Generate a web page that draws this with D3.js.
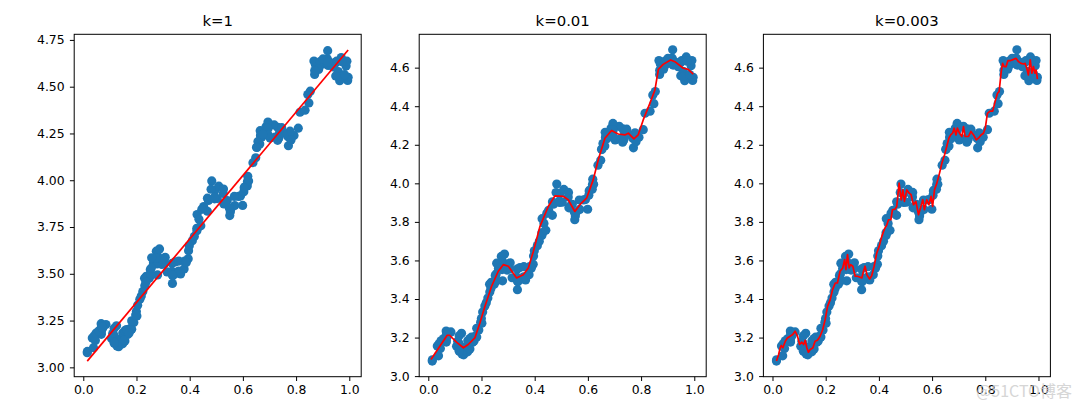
<!DOCTYPE html>
<html><head><meta charset="utf-8">
<script src="https://cdn.jsdelivr.net/npm/d3@7"></script>
<style>body{margin:0;background:#fff}svg{display:block}text{font-family:"DejaVu Sans",sans-serif}</style>
</head><body><svg id="c" width="1080" height="410"></svg>
<script>
// scatter data (x, y)
const xs = [0.067732,0.427810,0.995731,0.738336,0.981083,0.526171,0.378887,0.033859,0.132791,0.138306,0.247809,0.648270,0.731209,0.236833,0.969788,0.607492,0.358622,0.147846,0.637820,0.230372,0.070237,0.067154,0.925577,0.717733,0.015371,0.335070,0.040486,0.212575,0.617218,0.541196,0.045353,0.126762,0.556486,0.901144,0.958476,0.274561,0.394396,0.872480,0.409932,0.908969,0.166819,0.665016,0.263727,0.231214,0.552928,0.047744,0.365746,0.495002,0.493466,0.792101,0.769660,0.251821,0.181951,0.808177,0.334116,0.338630,0.452584,0.694770,0.590902,0.307928,0.148364,0.702180,0.721544,0.666886,0.124931,0.618286,0.381086,0.385643,0.777175,0.116089,0.115487,0.663510,0.254884,0.993888,0.295434,0.952523,0.307047,0.277261,0.279101,0.175724,0.156383,0.733165,0.848142,0.771184,0.429492,0.162176,0.917064,0.315044,0.201473,0.297038,0.336647,0.666109,0.583888,0.085031,0.687006,0.949655,0.189912,0.844027,0.333288,0.427035,0.466369,0.550659,0.278213,0.918769,0.886555,0.569488,0.066379,0.335751,0.426863,0.395746,0.694221,0.272760,0.503495,0.067119,0.038326,0.599122,0.947054,0.671279,0.434811,0.509381,0.749442,0.058014,0.482978,0.466776,0.357767,0.949123,0.417320,0.920461,0.156433,0.656662,0.616418,0.853428,0.133295,0.693007,0.178449,0.199526,0.073224,0.286515,0.182026,0.621523,0.344584,0.398556,0.480369,0.153350,0.171846,0.867082,0.223855,0.528475,0.890192,0.106352,0.917886,0.014855,0.567682,0.068854,0.603535,0.532050,0.651362,0.901225,0.204337,0.696081,0.963924,0.981390,0.987911,0.990947,0.736021,0.253574,0.674722,0.939368,0.235419,0.110521,0.218023,0.869778,0.196830,0.958178,0.972673,0.745797,0.445674,0.470557,0.549236,0.335691,0.884739,0.918916,0.441815,0.116598,0.359274,0.814811,0.387125,0.982243,0.780880,0.652565,0.870030,0.604755,0.255212,0.730546,0.493164,0.257017,0.833735,0.070095,0.527070,0.116163];
const ys = [3.176513,3.816464,4.550095,4.256571,4.560815,3.929515,3.526170,3.156393,3.110301,3.149813,3.476346,4.119688,4.282233,3.486582,4.655492,3.965162,3.514900,3.125947,4.094115,3.476039,3.210610,3.190612,4.631504,4.295890,3.085028,3.448080,3.167440,3.364266,3.993482,3.891471,3.143259,3.114204,3.851484,4.621899,4.580768,3.620992,3.580501,4.618706,3.676867,4.641845,3.175939,4.264980,3.558448,3.436632,3.831052,3.182853,3.498906,3.946833,3.900583,4.238522,4.233080,3.521557,3.203344,4.278105,3.555705,3.502661,3.859776,4.275956,3.916191,3.587961,3.183004,4.225236,4.231083,4.240544,3.222372,4.021445,3.567479,3.562580,4.262059,3.208813,3.169825,4.193949,3.491678,4.533306,3.550108,4.636427,3.557078,3.552874,3.494159,3.206828,3.195266,4.221292,4.413372,4.184347,3.742878,3.201878,4.648964,3.510117,3.274434,3.579622,3.489244,4.237386,3.913749,3.228990,4.286286,4.628614,3.239536,4.457997,3.513384,3.729674,3.834274,3.811155,3.598316,4.692514,4.604859,3.864912,3.184236,3.500796,3.743365,3.622905,4.310796,3.583357,3.901852,3.233521,3.105266,3.865544,4.628625,4.231213,3.791149,3.968271,4.253910,3.194710,3.996503,3.904358,3.503976,4.557545,3.699876,4.613614,3.140401,4.206717,3.969524,4.476096,3.136528,4.279071,3.200603,3.299012,3.209873,3.632942,3.248361,3.995783,3.563262,3.649712,3.951845,3.145031,3.181577,4.637087,3.404964,3.873188,4.633648,3.154768,4.623637,3.078132,3.913596,3.221817,3.938071,3.880822,4.176436,4.648161,3.332312,4.240614,4.532224,4.557105,4.610072,4.636569,4.229813,3.500860,4.245514,4.605182,3.454340,3.180775,3.380820,4.565020,3.279973,4.554241,4.633520,4.281037,3.844426,3.891601,3.849728,3.492215,4.592374,4.632025,3.756750,3.133555,3.567919,4.363382,3.560165,4.564305,4.215055,4.174999,4.586640,3.960008,3.529963,4.213412,3.908685,3.585821,4.374394,3.213817,3.952681,3.129283];

const titles = ["k=1", "k=0.01", "k=0.003"];

// fitted lines
const fitX1 = [0.014855, 0.995731];
const fitY1 = [3.033, 4.696];

const fitX2 = [0.010,0.071,0.080,0.106,0.132,0.150,0.175,0.194,0.213,0.238,0.263,0.282,0.301,0.332,0.357,0.376,0.395,0.420,0.451,0.476,0.508,0.526,0.551,0.570,0.595,0.620,0.639,0.664,0.689,0.714,0.739,0.752,0.773,0.789,0.808,0.833,0.852,0.865,0.883,0.911,0.927,0.959,0.977,0.996];
const fitY2 = [3.086,3.212,3.212,3.176,3.147,3.164,3.198,3.276,3.362,3.466,3.544,3.578,3.570,3.509,3.526,3.561,3.647,3.777,3.880,3.935,3.932,3.915,3.854,3.889,3.923,4.018,4.122,4.234,4.274,4.256,4.251,4.260,4.231,4.251,4.329,4.415,4.484,4.591,4.617,4.640,4.631,4.597,4.591,4.567];

const fitX3 = [0.015,0.023,0.029,0.033,0.039,0.048,0.056,0.066,0.076,0.085,0.094,0.102,0.110,0.117,0.123,0.129,0.135,0.142,0.152,0.160,0.169,0.179,0.189,0.198,0.207,0.217,0.226,0.236,0.244,0.254,0.264,0.271,0.276,0.282,0.288,0.294,0.302,0.311,0.320,0.327,0.336,0.342,0.348,0.355,0.365,0.373,0.382,0.392,0.401,0.411,0.421,0.430,0.436,0.445,0.451,0.461,0.467,0.476,0.484,0.490,0.496,0.505,0.514,0.521,0.530,0.539,0.549,0.558,0.565,0.571,0.580,0.588,0.596,0.602,0.609,0.618,0.628,0.637,0.647,0.655,0.663,0.670,0.677,0.683,0.690,0.695,0.703,0.712,0.718,0.724,0.737,0.746,0.756,0.766,0.774,0.784,0.793,0.800,0.808,0.818,0.828,0.837,0.846,0.852,0.860,0.865,0.871,0.878,0.885,0.893,0.906,0.916,0.925,0.934,0.944,0.950,0.956,0.962,0.969,0.975,0.981,0.987,0.991,0.996];
const fitY3 = [3.078,3.112,3.147,3.159,3.147,3.181,3.198,3.207,3.216,3.233,3.207,3.164,3.176,3.164,3.186,3.147,3.124,3.138,3.147,3.181,3.186,3.207,3.242,3.293,3.362,3.397,3.449,3.483,3.483,3.544,3.561,3.604,3.552,3.630,3.561,3.578,3.570,3.518,3.518,3.514,3.509,3.544,3.570,3.526,3.504,3.521,3.570,3.639,3.673,3.725,3.763,3.785,3.811,3.811,3.863,3.866,3.880,4.001,3.914,3.966,3.906,3.966,3.949,3.941,3.889,3.906,3.837,3.880,3.915,3.863,3.915,3.889,3.932,3.880,3.966,4.001,4.053,4.105,4.148,4.191,4.234,4.251,4.260,4.286,4.251,4.286,4.260,4.243,4.294,4.243,4.243,4.269,4.251,4.225,4.234,4.251,4.260,4.286,4.363,4.375,4.375,4.424,4.467,4.476,4.579,4.622,4.605,4.605,4.636,4.636,4.643,4.648,4.631,4.622,4.619,4.622,4.597,4.562,4.640,4.571,4.605,4.571,4.588,4.540];

const xTicks = [0.0, 0.2, 0.4, 0.6, 0.8, 1.0];
const yTicks1 = [3.00, 3.25, 3.50, 3.75, 4.00, 4.25, 4.50, 4.75];
const yTicks23 = [3.0, 3.2, 3.4, 3.6, 3.8, 4.0, 4.2, 4.4, 4.6];

const panels = [
  {title: titles[0], fx: fitX1, fy: fitY1, yd: [2.950, 4.780], yt: yTicks1, fmt: d3.format(".2f")},
  {title: titles[1], fx: fitX2, fy: fitY2, yd: [2.997, 4.773], yt: yTicks23, fmt: d3.format(".1f")},
  {title: titles[2], fx: fitX3, fy: fitY3, yd: [2.997, 4.773], yt: yTicks23, fmt: d3.format(".1f")}
];

const svg = d3.select("#c");
const lefts = [74.2, 419.2, 763.4];
const topY = 34.3, W = 287, H = 342.4;
const xDom = [-0.0342, 1.0448];
const pts = xs.map((x, i) => [x, ys[i]]);

panels.forEach((p, i) => {
  const g = svg.append("g").attr("transform", `translate(${lefts[i]},${topY})`);
  const x = d3.scaleLinear().domain(xDom).range([0, W]);
  const y = d3.scaleLinear().domain(p.yd).range([H, 0]);

  g.append("g").selectAll("circle").data(pts).join("circle")
    .attr("cx", d => x(d[0])).attr("cy", d => y(d[1])).attr("r", 4.6)
    .attr("fill", "#1f77b4");

  const line = d3.line().x(d => x(d[0])).y(d => y(d[1]));
  g.append("path").datum(p.fx.map((v, k) => [v, p.fy[k]]))
    .attr("d", line).attr("fill", "none").attr("stroke", "#ff0000")
    .attr("stroke-width", 1.7).attr("stroke-linejoin", "round");

  const xa = g.append("g").attr("transform", `translate(0,${H})`)
    .call(d3.axisBottom(x).tickValues(xTicks).tickFormat(d3.format(".1f")).tickSize(4.3).tickPadding(4.5));
  const ya = g.append("g")
    .call(d3.axisLeft(y).tickValues(p.yt).tickFormat(p.fmt).tickSize(4.3).tickPadding(5.3));
  [xa, ya].forEach(a => {
    a.select(".domain").remove();
    a.selectAll("line").attr("stroke", "#000").attr("stroke-width", 1);
    a.selectAll("text").attr("fill", "#000").style("font-size", "12.4px")
      .style("font-family", '"DejaVu Sans", sans-serif');
  });

  g.append("rect").attr("x", 0).attr("y", 0).attr("width", W).attr("height", H)
    .attr("fill", "none").attr("stroke", "#000").attr("stroke-width", 1);

  g.append("text").attr("x", W / 2).attr("y", -8.5).attr("text-anchor", "middle")
    .style("font-size", "14.9px").attr("fill", "#000").text(p.title);
});

svg.append("text").attr("x", 1072).attr("y", 397).attr("text-anchor", "end")
  .style("font-family", '"Noto Sans CJK SC", sans-serif').style("font-size", "16px")
  .attr("fill", "#cccccc").attr("opacity", 0.8).text("@51CTO博客");
</script></body></html>
